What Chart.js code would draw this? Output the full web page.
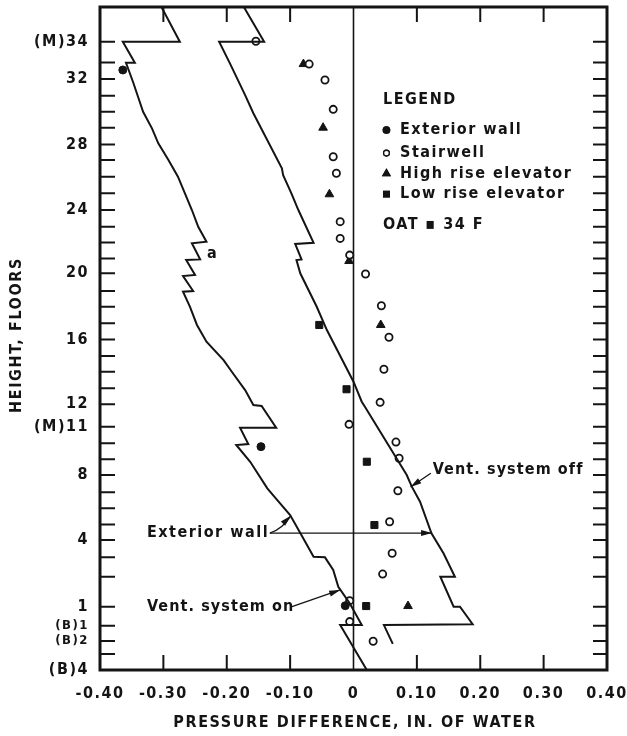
<!DOCTYPE html>
<html>
<head>
<meta charset="utf-8">
<script src="https://cdn.jsdelivr.net/npm/chart.js@4.4.1/dist/chart.umd.min.js"></script>
<style>
  body { margin: 0; background: #fff; }
</style>
</head>
<body>
<canvas id="myChart" width="627" height="736"></canvas>
<script>
// height axis: one unit per ordinary floor, ticks at every floor
const floorLevels = [0, 0.98, 1.77, 2.70, 3.86, 5.69, 6.87, 7.93, 8.88, 9.86, 10.84, 11.89, 12.85, 13.82,
  14.84, 16.20, 17.18, 18.19, 19.15, 20.16, 21.14, 22.15, 23.11, 24.19, 25.10, 26.07, 27.03, 28.05,
  29.07, 30.08, 31.10, 32.05, 33.07, 34.04, 35.02, 36.04, 37.05, 38.31];
const floorLabels = ['(B)4', '', '(B)2', '(B)1', '1', '', '', '4', '', '', '', '8', '', '',
  '(M)11', '12', '', '', '', '16', '', '', '', '20', '', '', '', '24', '', '', '', '28',
  '', '', '', '32', '', '(M)34'];

// vent. system on (curve "a")
const ventOnX = [-0.303, -0.274, -0.364, -0.345, -0.359, -0.348, -0.340, -0.332, -0.318, -0.308, -0.292,
  -0.277, -0.266, -0.255, -0.245, -0.232, -0.255, -0.242, -0.264, -0.250, -0.269, -0.253, -0.269,
  -0.258, -0.247, -0.232, -0.205, -0.192, -0.171, -0.158, -0.145, -0.122, -0.179, -0.166, -0.185,
  -0.163, -0.136, -0.127, -0.100, -0.084, -0.063, -0.045, -0.032, -0.024, -0.006, 0.013, -0.021, 0.021];
const ventOnY = [40.43, 38.31, 38.31, 37.03, 37.03, 35.87, 34.96, 34.04, 33.03, 32.12, 31.10,
  30.08, 29.07, 28.05, 27.03, 26.12, 26.02, 25.04, 25.00, 24.09, 24.02, 23.11, 23.07,
  22.15, 21.04, 20.02, 18.90, 18.19, 17.07, 16.16, 16.10, 14.77, 14.77, 13.78, 13.72,
  12.70, 11.08, 10.67, 9.45, 8.35, 6.91, 6.87, 6.10, 5.08, 4.07, 2.74, 2.74, 0];

// vent. system off
const ventOffX = [-0.173, -0.141, -0.212, -0.195, -0.171, -0.158, -0.113, -0.111, -0.098, -0.087, -0.063,
  -0.092, -0.082, -0.090, -0.084, -0.058, -0.042, 0.000, 0.013, 0.018, 0.055, 0.084, 0.092, 0.105,
  0.123, 0.142, 0.160, 0.137, 0.158, 0.168, 0.188, 0.048, 0.062];
const ventOffY = [40.43, 38.31, 38.31, 36.99, 35.06, 33.95, 30.59, 30.18, 29.07, 28.05, 26.05,
  25.98, 25.04, 25.00, 24.19, 22.15, 20.73, 17.58, 16.36, 16.05, 13.72, 11.89, 11.18, 10.26,
  8.34, 7.12, 5.69, 5.69, 3.86, 3.86, 2.79, 2.74, 1.59];

// measured points
const extWallX = [-0.364, -0.146, -0.013];
const extWallY = [36.59, 13.62, 3.92];
const stairX = [-0.154, -0.070, -0.045, -0.032, -0.032, -0.027, -0.021, -0.021, -0.006, 0.019, 0.044, 0.056,
  0.048, 0.042, -0.007, 0.067, 0.072, 0.070, 0.057, 0.061, 0.046, -0.006, -0.006, 0.031];
const stairY = [38.34, 36.95, 35.98, 34.19, 31.30, 30.29, 27.34, 26.32, 25.30, 24.15, 22.21, 20.29,
  18.34, 16.32, 14.98, 13.90, 12.91, 10.93, 9.04, 7.12, 5.85, 4.23, 2.95, 1.75];
const highRiseX = [-0.079, -0.048, -0.038, -0.007, 0.043, 0.086];
const highRiseY = [36.95, 33.07, 29.01, 24.94, 21.04, 3.90];
const lowRiseX = [-0.054, -0.011, 0.021, 0.033, 0.020];
const lowRiseY = [21.04, 17.12, 12.70, 8.84, 3.90];

const ink = '#141414';
const face = "'Liberation Sans Narrow', 'DejaVu Sans Condensed', sans-serif";

function pts(xs, ys) { return xs.map((x, i) => ({x: x, y: ys[i]})); }

function arrow(ctx, x1, y1, x2, y2) {
  ctx.beginPath(); ctx.moveTo(x1, y1); ctx.lineTo(x2, y2); ctx.stroke();
  head(ctx, x2, y2, Math.atan2(y2 - y1, x2 - x1));
}
function head(ctx, x, y, ang) {
  const c = Math.cos(ang), s = Math.sin(ang);
  ctx.beginPath();
  ctx.moveTo(x, y);
  ctx.lineTo(x - 11 * c + 3 * s, y - 11 * s - 3 * c);
  ctx.lineTo(x - 11 * c - 3 * s, y - 11 * s + 3 * c);
  ctx.closePath(); ctx.fill();
}

const extras = {
  id: 'extras',
  beforeDraw(chart) { chart.ctx.letterSpacing = '1.5px'; },
  beforeDatasetsDraw(chart) {
    const {ctx, chartArea: a, scales: {x, y}} = chart;
    ctx.save();
    ctx.strokeStyle = ink;
    const x0 = x.getPixelForValue(0);
    ctx.lineWidth = 1.6;
    ctx.beginPath(); ctx.moveTo(x0, a.top); ctx.lineTo(x0, a.bottom); ctx.stroke();
    ctx.lineWidth = 2;
    floorLevels.forEach(v => {
      const py = y.getPixelForValue(v);
      ctx.beginPath();
      ctx.moveTo(a.left, py); ctx.lineTo(a.left + 15, py);
      ctx.moveTo(a.right, py); ctx.lineTo(a.right - 14, py);
      ctx.stroke();
    });
    x.ticks.forEach(t => {
      if (Math.abs(t.value) < 1e-6 || Math.abs(t.value) > 0.39) return;
      const px = x.getPixelForValue(t.value);
      ctx.beginPath();
      ctx.moveTo(px, a.top); ctx.lineTo(px, a.top + 15);
      ctx.moveTo(px, a.bottom); ctx.lineTo(px, a.bottom - 15);
      ctx.stroke();
    });
    ctx.lineWidth = 3;
    ctx.strokeRect(a.left, a.top, a.right - a.left, a.bottom - a.top);
    ctx.restore();
  },
  afterDatasetsDraw(chart) {
    const {ctx, scales: {x, y}} = chart;
    const X = v => x.getPixelForValue(v), Y = v => y.getPixelForValue(v);
    ctx.save();
    ctx.fillStyle = ink; ctx.strokeStyle = ink;
    ctx.font = 'bold 16px ' + face;
    ctx.textBaseline = 'middle';
    ctx.textAlign = 'left';

    // annotations
    ctx.fillText('Exterior wall', X(-0.326), Y(8.35));
    ctx.letterSpacing = '1.1px';
    ctx.fillText('Vent. system on', X(-0.326), Y(3.84));
    ctx.fillText('Vent. system off', X(0.125), Y(12.2));
    ctx.letterSpacing = '1.5px';
    ctx.fillText('a', X(-0.231), Y(25.4));
    ctx.lineWidth = 1.3;
    arrow(ctx, X(-0.132), Y(8.35), X(0.124), Y(8.35));
    ctx.beginPath();
    ctx.moveTo(X(-0.132), Y(8.35));
    ctx.quadraticCurveTo(X(-0.112), Y(8.6), X(-0.099), Y(9.4));
    ctx.stroke();
    head(ctx, X(-0.099), Y(9.4), -Math.PI / 4);
    arrow(ctx, X(-0.097), Y(3.86), X(-0.021), Y(4.88));
    arrow(ctx, X(0.122), Y(12.0), X(0.090), Y(11.16));

    // legend
    ctx.fillText('LEGEND', X(0.0465), Y(34.76));
    const items = [['Exterior wall', 0], ['Stairwell', 1], ['High rise elevator', 2], ['Low rise elevator', 3]];
    const rows = [32.93, 31.52, 30.27, 29.02];
    items.forEach((it, i) => {
      const ds = chart.data.datasets[2 + it[1]];
      Chart.helpers.drawPoint(ctx, {
        pointStyle: ds.pointStyle, radius: ds.pointRadius * 0.8, rotation: 0,
        borderWidth: ds.borderWidth
      }, X(0.052), Y(rows[i]));
      ctx.fillStyle = ds.backgroundColor; ctx.strokeStyle = ds.borderColor;
      ctx.fill(); ctx.stroke();
      ctx.fillStyle = ink;
      ctx.fillText(it[0], X(0.0734), Y(rows[i]));
    });
    ctx.fillText('OAT \u25aa 34 F', X(0.0465), Y(27.13));

    // axis titles
    ctx.textAlign = 'center';
    ctx.letterSpacing = '1.6px';
    ctx.fillText('PRESSURE DIFFERENCE, IN. OF WATER', 355, 723);
    ctx.translate(17, 335);
    ctx.rotate(-Math.PI / 2);
    ctx.fillText('HEIGHT, FLOORS', 0, 0);
    ctx.restore();
  }
};

const ctx = document.getElementById('myChart').getContext('2d');
const myChart = new Chart(ctx, {
  type: 'scatter',
  data: {
    datasets: [
      { data: pts(ventOnX, ventOnY), showLine: true, borderColor: ink, borderWidth: 2, pointRadius: 0, tension: 0 },
      { data: pts(ventOffX, ventOffY), showLine: true, borderColor: ink, borderWidth: 2, pointRadius: 0, tension: 0 },
      { data: pts(extWallX, extWallY), pointStyle: 'circle', pointRadius: 4, backgroundColor: ink, borderColor: ink, borderWidth: 1 },
      { data: pts(stairX, stairY), pointStyle: 'circle', pointRadius: 3.6, backgroundColor: '#fff', borderColor: ink, borderWidth: 1.8 },
      { data: pts(highRiseX, highRiseY), pointStyle: 'triangle', pointRadius: 5, backgroundColor: ink, borderColor: ink, borderWidth: 1 },
      { data: pts(lowRiseX, lowRiseY), pointStyle: 'rect', pointRadius: 5, backgroundColor: ink, borderColor: ink, borderWidth: 1 }
    ]
  },
  options: {
    responsive: false,
    animation: false,
    devicePixelRatio: 1,
    layout: { padding: { top: 7, right: 20, bottom: 0, left: 0 } },
    plugins: { legend: { display: false }, tooltip: { enabled: false } },
    scales: {
      x: {
        type: 'linear', min: -0.4, max: 0.4,
        grid: { display: false, drawTicks: false }, border: { display: false },
        ticks: {
          stepSize: 0.1, padding: 14, color: ink,
          font: { family: face, size: 16, weight: 'bold' },
          callback: v => Math.abs(v) < 1e-6 ? '0' : v.toFixed(2)
        },
        afterFit(s) { s.height = 66; s.paddingLeft = 0; s.paddingRight = 0; }
      },
      y: {
        type: 'linear', min: 0, max: 40.43,
        grid: { display: false, drawTicks: false }, border: { display: false },
        afterBuildTicks(s) { s.ticks = floorLevels.map(v => ({ value: v })); },
        ticks: {
          autoSkip: false, padding: 11, color: ink,
          font: c => ({ family: face, size: (c.index === 2 || c.index === 3) ? 13 : 16, weight: 'bold' }),
          callback: (v, i) => floorLabels[i]
        },
        afterFit(s) { s.width = 100; s.paddingTop = 0; s.paddingBottom = 0; }
      }
    }
  },
  plugins: [extras]
});
</script>
</body>
</html>
